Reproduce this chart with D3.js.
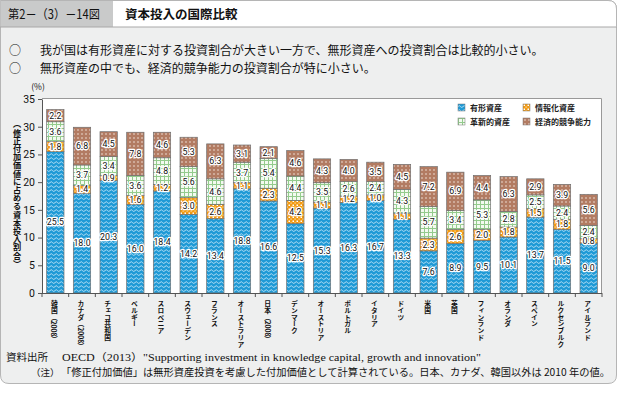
<!DOCTYPE html>
<html>
<head>
<meta charset="utf-8">
<script src="https://cdn.jsdelivr.net/npm/d3@7"></script>
<style>
  body { margin: 0; background: #fff; }
  svg { display: block; font-family: "Noto Sans CJK JP", "Noto Sans", sans-serif; }
</style>
</head>
<body>
<div id="chart"></div>
<script>
// data
const categories = ["韓国（2008）", "カナダ（2008）", "チェコ共和国", "ベルギー", "スロベニア", "スウェーデン",
    "フランス", "オーストラリア", "日本（2008）", "デンマーク", "オーストリア", "ポルトガル", "イタリア",
    "ドイツ", "米国", "英国", "フィンランド", "オランダ", "スペイン", "ルクセンブルク", "アイルランド"];
const tangible   = [25.5, 18.0, 20.3, 16.0, 18.4, 14.2, 13.4, 18.8, 16.6, 12.5, 15.3, 16.3, 16.7, 13.3, 7.6, 8.9, 9.5, 10.1, 13.7, 11.5, 9.0];
const info       = [1.8, 1.4, 0.9, 1.6, 1.2, 3.0, 2.6, 1.1, 2.3, 4.2, 1.1, 1.2, 1.0, 1.1, 2.3, 2.6, 2.0, 1.8, 1.5, 1.8, 0.8];
const innovative = [3.6, 3.7, 3.4, 3.6, 4.8, 5.6, 4.6, 3.7, 5.4, 4.4, 3.5, 2.6, 2.4, 4.3, 5.7, 3.4, 5.3, 2.8, 2.5, 2.4, 2.4];
const economic   = [2.2, 6.8, 4.5, 7.8, 4.6, 5.3, 6.3, 3.1, 2.1, 4.6, 4.3, 4.0, 3.5, 4.5, 7.2, 6.9, 4.4, 6.3, 2.9, 3.9, 5.6];
const seriesKeys = ["tangible", "info", "innovative", "economic"];
const seriesNames = ["有形資産", "情報化資産", "革新的資産", "経済的競争能力"];
const yTicks = [0, 5, 10, 15, 20, 25, 30, 35];

const W = 621, H = 394;
const svg = d3.select("#chart").append("svg").attr("width", W).attr("height", H);
const defs = svg.append("defs");

// fill patterns
const pTan = defs.append("pattern").attr("id", "p_tangible").attr("patternUnits", "userSpaceOnUse")
    .attr("width", 5).attr("height", 4);
pTan.append("rect").attr("width", 5).attr("height", 4).attr("fill", "#1f9ad6");
pTan.append("path").attr("d", "M0,2.6 Q1.25,0.8 2.5,2.6 T5,2.6").attr("fill", "none")
    .attr("stroke", "#d4eefa").attr("stroke-width", 0.8);

const pInfo = defs.append("pattern").attr("id", "p_info").attr("patternUnits", "userSpaceOnUse")
    .attr("width", 4).attr("height", 4);
pInfo.append("rect").attr("width", 4).attr("height", 4).attr("fill", "#f29a12");
pInfo.append("rect").attr("x", 0.5).attr("y", 0.5).attr("width", 1.5).attr("height", 1.5).attr("fill", "#fff");
pInfo.append("rect").attr("x", 2.5).attr("y", 2.5).attr("width", 1.2).attr("height", 1.2).attr("fill", "#fbe3b8");

const pInno = defs.append("pattern").attr("id", "p_innovative").attr("patternUnits", "userSpaceOnUse")
    .attr("width", 4).attr("height", 4);
pInno.append("rect").attr("width", 4).attr("height", 4).attr("fill", "#f3faf0");
pInno.append("path").attr("d", "M0,0.5H4M0.5,0V4").attr("stroke", "#93cb8c").attr("stroke-width", 1);

const pEco = defs.append("pattern").attr("id", "p_economic").attr("patternUnits", "userSpaceOnUse")
    .attr("width", 4).attr("height", 4);
pEco.append("rect").attr("width", 4).attr("height", 4).attr("fill", "#b27b62");
pEco.append("rect").attr("x", 1.3).attr("y", 1.3).attr("width", 1.4).attr("height", 1.4).attr("fill", "#ecd9cf");

const fills = { tangible: "url(#p_tangible)", info: "url(#p_info)", innovative: "url(#p_innovative)", economic: "url(#p_economic)" };

// panel
svg.append("path")
    .attr("d", "M0.5,0.5 H608 Q616.5,0.5 616.5,9 V375 Q616.5,383.5 608,383.5 H9 Q0.5,383.5 0.5,375 Z")
    .attr("fill", "#eeefef").attr("stroke", "#b5b5b5");
svg.append("path")
    .attr("d", "M113,0.5 H608 Q616.5,0.5 616.5,9 V27 H113 Z")
    .attr("fill", "#fff");
svg.append("rect").attr("x", 0.5).attr("y", 0.5).attr("width", 112.5).attr("height", 26.5).attr("fill", "#c9caca");
svg.append("line").attr("x1", 0).attr("x2", 617).attr("y1", 27).attr("y2", 27).attr("stroke", "#a8a8a8");
svg.append("path")
    .attr("d", "M0.5,0.5 H608 Q616.5,0.5 616.5,9 V27").attr("fill", "none").attr("stroke", "#b5b5b5");

svg.append("text").attr("x", 8).attr("y", 18.5).attr("font-size", 12.5).attr("fill", "#111")
    .attr("textLength", 92).attr("lengthAdjust", "spacingAndGlyphs")
    .text("第2－（3）－14図");
svg.append("text").attr("x", 125).attr("y", 18.5).attr("font-size", 12.5).attr("font-weight", "bold").attr("fill", "#111")
    .text("資本投入の国際比較");

const bullets = ["我が国は有形資産に対する投資割合が大きい一方で、無形資産への投資割合は比較的小さい。",
    "無形資産の中でも、経済的競争能力の投資割合が特に小さい。"];
bullets.forEach((t, i) => {
    svg.append("text").attr("x", 9).attr("y", 55 + i * 18).attr("font-size", 12).attr("fill", "#111").text("○");
    svg.append("text").attr("x", 40).attr("y", 55 + i * 18).attr("font-size", 12).attr("fill", "#111").text(t);
});

// scales
const x = d3.scaleBand().domain(categories).range([42, 602]).paddingInner(0.35).paddingOuter(0.175);
const y = d3.scaleLinear().domain([0, 35]).range([293, 99]);

// plot area
svg.append("rect").attr("x", 42).attr("y", 98).attr("width", 560).attr("height", 195).attr("fill", "#fff");
svg.append("path").attr("d", "M42,98.5 H601.5 V293").attr("fill", "none").attr("stroke", "#999");

const rows = categories.map((c, i) => ({ cat: c, tangible: tangible[i], info: info[i], innovative: innovative[i], economic: economic[i] }));
const stacked = d3.stack().keys(seriesKeys)(rows);

const layer = svg.append("g").selectAll("g").data(stacked).enter().append("g")
    .attr("fill", d => fills[d.key]);
layer.selectAll("rect").data(d => d).enter().append("rect")
    .attr("x", d => x(d.data.cat))
    .attr("width", x.bandwidth())
    .attr("y", d => y(d[1]))
    .attr("height", d => y(d[0]) - y(d[1]))
    .attr("stroke", "#6f6f6f").attr("stroke-width", 0.7);

// value labels
const lab = svg.append("g").attr("font-size", 8.8).attr("text-anchor", "middle").attr("fill", "#111")
    .attr("font-family", "Roboto, 'Noto Sans', sans-serif");
stacked.forEach(s => {
    lab.selectAll(null).data(s).enter().append("text")
        .attr("x", d => x(d.data.cat) + x.bandwidth() / 2)
        .attr("y", d => (y(d[0]) + y(d[1])) / 2 + 3.1)
        .attr("stroke", "#fff").attr("stroke-width", 2.6).attr("paint-order", "stroke")
        .attr("stroke-linejoin", "round")
        .text(d => (d[1] - d[0]).toFixed(1));
});

// y axis
const yAxis = svg.append("g").attr("transform", "translate(42,0)")
    .call(d3.axisLeft(y).tickValues(yTicks).tickSize(4).tickPadding(3).tickSizeOuter(0));
yAxis.select(".domain").attr("stroke", "#555");
yAxis.selectAll(".tick line").attr("stroke", "#555");
yAxis.selectAll("text").attr("font-size", 10.5).attr("fill", "#111")
    .attr("font-family", "Roboto, 'Noto Sans', sans-serif");
svg.append("text").attr("x", 38).attr("y", 90).attr("font-size", 8.5).attr("text-anchor", "middle").attr("fill", "#111")
    .text("(%)");
svg.append("text").attr("x", 17).attr("y", 194).attr("font-size", 8.2).attr("font-weight", "bold")
    .attr("text-anchor", "middle").style("writing-mode", "vertical-rl").attr("fill", "#111")
    .text("（修正付加価値に占める資本投入割合）");

// x axis
svg.append("line").attr("x1", 42).attr("x2", 602).attr("y1", 293.5).attr("y2", 293.5).attr("stroke", "#555");
svg.append("g").selectAll("line").data(d3.range(categories.length + 1)).enter().append("line")
    .attr("x1", i => 42 + i * x.step()).attr("x2", i => 42 + i * x.step())
    .attr("y1", 293).attr("y2", 297).attr("stroke", "#555");
svg.append("g").selectAll("text").data(categories).enter().append("text")
    .attr("x", d => x(d) + x.bandwidth() / 2 - 1)
    .attr("y", 300)
    .attr("font-size", 6.8).attr("font-weight", "bold").attr("fill", "#111")
    .style("writing-mode", "vertical-rl")
    .text(d => d);

// legend
const legPos = [[458, 104], [523, 104], [458, 118], [523, 118]];
seriesKeys.forEach((k, i) => {
    const g = svg.append("g").attr("transform", "translate(" + legPos[i][0] + "," + legPos[i][1] + ")");
    g.append("rect").attr("width", 7).attr("height", 7).attr("fill", fills[k]).attr("stroke", "#777").attr("stroke-width", 0.5);
    g.append("text").attr("x", 12).attr("y", 7).attr("font-size", 8).attr("font-weight", "bold").attr("fill", "#222")
        .text(seriesNames[i]);
});

// notes
svg.append("text").attr("x", 6).attr("y", 361).attr("font-size", 10.5).attr("fill", "#111").text("資料出所");
svg.append("text").attr("x", 62).attr("y", 361).attr("font-size", 10.5).attr("fill", "#111")
    .attr("font-family", "'Liberation Serif', 'Noto Sans CJK JP', serif")
    .attr("textLength", 419).attr("lengthAdjust", "spacingAndGlyphs")
    .text("OECD（2013）\"Supporting investment in knowledge capital, growth and innovation\"");
svg.append("text").attr("x", 31).attr("y", 376).attr("font-size", 9.5).attr("fill", "#111").text("（注）");
svg.append("text").attr("x", 61).attr("y", 376).attr("font-size", 10).attr("fill", "#111")
    .attr("textLength", 549).attr("lengthAdjust", "spacingAndGlyphs")
    .text("「修正付加価値」は無形資産投資を考慮した付加価値として計算されている。日本、カナダ、韓国以外は 2010 年の値。");
</script>
</body>
</html>
